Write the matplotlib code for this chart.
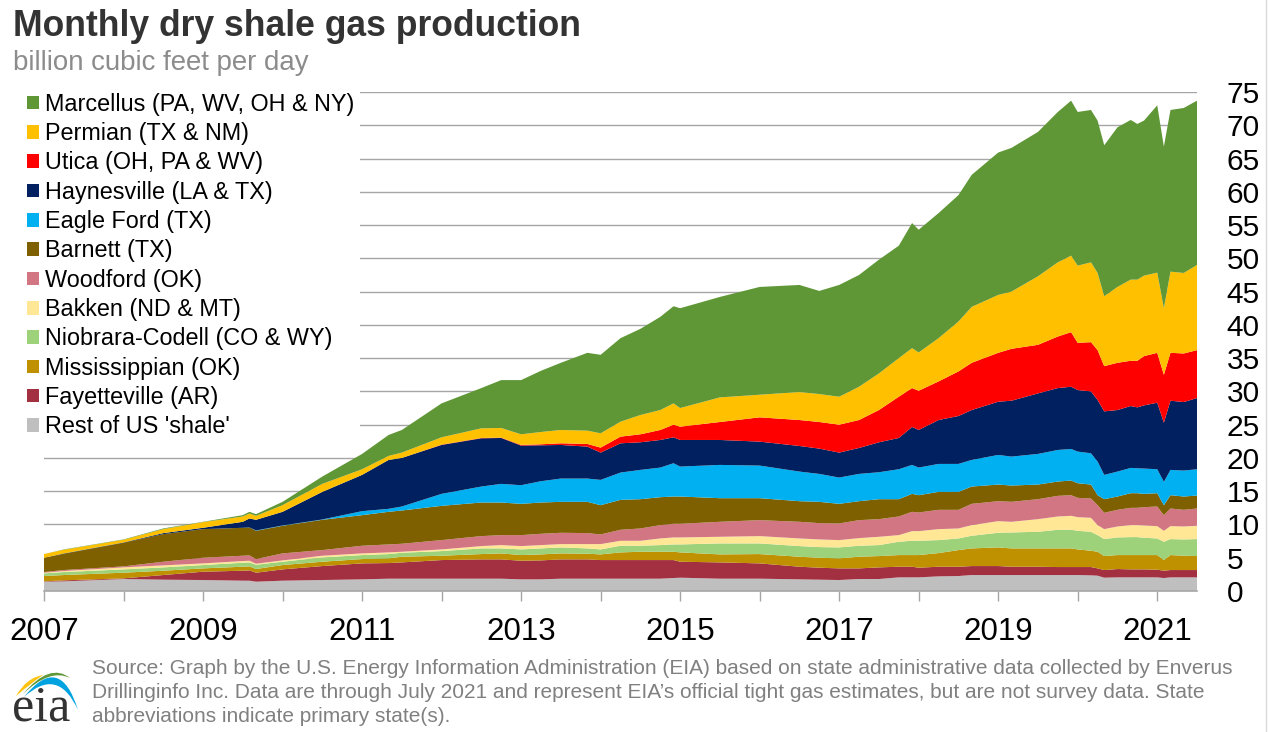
import numpy as np
import matplotlib
matplotlib.use('Agg')
import matplotlib.pyplot as plt
from matplotlib.patches import Patch, PathPatch
from matplotlib.path import Path

plt.rcParams['font.family'] = ['Liberation Sans', 'DejaVu Sans']

# months since Jan 2007
meses = [0, 3, 12, 18, 24, 30, 31, 32, 36, 42, 48, 52, 54, 60, 66, 69, 72, 75, 78, 82,
         84, 87, 90, 93, 95, 96, 102, 108, 114, 117, 120, 123, 126, 129, 131, 132, 135, 138, 140, 144,
         146, 150, 153, 155, 156, 158, 159, 160, 162, 164, 165, 166, 168, 169, 170, 172, 174]

# upper edge of each band in the stack (Bcf/d)
rest = [1.4, 1.45, 1.8, 1.7, 1.65, 1.55, 1.55, 1.4, 1.55, 1.65, 1.75, 1.85, 1.85, 1.85, 1.85, 1.85, 1.75, 1.75, 1.85, 1.85, 1.85, 1.85, 1.85, 1.85, 1.95, 2.0, 1.85, 1.85, 1.75, 1.7, 1.65, 1.8, 1.8, 2.05, 2.05, 2.05, 2.2, 2.25, 2.4, 2.4, 2.4, 2.4, 2.4, 2.4, 2.4, 2.35, 2.3, 2.0, 2.05, 2.05, 2.05, 2.05, 2.05, 1.95, 2.05, 2.05, 2.05]
fayetteville = [1.45, 1.6, 1.9, 2.4, 2.9, 3.05, 3.1, 2.75, 3.25, 3.75, 4.15, 4.2, 4.3, 4.65, 4.75, 4.75, 4.55, 4.6, 4.75, 4.75, 4.65, 4.65, 4.65, 4.65, 4.65, 4.4, 4.3, 4.15, 3.65, 3.5, 3.4, 3.4, 3.55, 3.65, 3.65, 3.5, 3.65, 3.65, 3.75, 3.75, 3.65, 3.65, 3.6, 3.6, 3.6, 3.6, 3.4, 3.15, 3.3, 3.25, 3.25, 3.25, 3.2, 3.05, 3.15, 3.15, 3.15]
mississippian = [2.25, 2.4, 2.75, 3.05, 3.4, 3.65, 3.7, 3.3, 3.9, 4.4, 4.8, 4.9, 5.15, 5.3, 5.55, 5.65, 5.4, 5.5, 5.65, 5.6, 5.5, 5.8, 5.9, 5.9, 5.9, 5.8, 5.5, 5.55, 5.15, 5.0, 4.9, 5.15, 5.25, 5.4, 5.4, 5.4, 5.7, 6.15, 6.4, 6.55, 6.4, 6.4, 6.4, 6.4, 6.25, 6.05, 5.9, 5.25, 5.4, 5.4, 5.4, 5.4, 5.4, 4.65, 5.4, 5.3, 5.25]
niobrara = [2.65, 2.85, 3.25, 3.55, 3.9, 4.25, 4.3, 3.95, 4.4, 5.05, 5.4, 5.55, 5.75, 6.0, 6.4, 6.4, 6.25, 6.4, 6.55, 6.4, 6.25, 6.8, 6.8, 6.9, 7.0, 7.0, 7.15, 7.15, 6.75, 6.6, 6.55, 6.8, 6.9, 7.4, 7.55, 7.55, 7.65, 7.9, 8.3, 8.75, 8.8, 8.9, 9.2, 9.2, 9.05, 8.9, 8.4, 7.8, 8.05, 8.1, 8.1, 8.0, 7.9, 7.4, 7.8, 7.75, 7.8]
bakken = [2.75, 3.0, 3.55, 3.85, 4.15, 4.5, 4.55, 4.1, 4.6, 5.3, 5.65, 5.8, 5.9, 6.25, 6.75, 6.9, 6.75, 6.9, 7.05, 7.05, 7.05, 7.55, 7.55, 7.9, 8.05, 8.05, 8.15, 8.25, 7.9, 7.75, 7.65, 7.95, 8.15, 8.4, 9.0, 9.0, 9.3, 9.4, 9.9, 10.5, 10.4, 10.8, 11.2, 11.3, 11.1, 11.0, 9.9, 9.3, 9.7, 9.9, 9.9, 9.85, 9.75, 9.05, 9.75, 9.7, 9.8]
woodford = [2.85, 3.15, 3.7, 4.4, 5.0, 5.3, 5.35, 4.8, 5.65, 6.15, 6.8, 7.0, 7.1, 7.65, 8.25, 8.4, 8.4, 8.6, 8.75, 8.7, 8.5, 9.2, 9.4, 9.9, 10.1, 10.1, 10.4, 10.65, 10.4, 10.2, 10.15, 10.65, 10.8, 11.2, 11.9, 11.8, 12.2, 12.2, 13.1, 13.5, 13.4, 13.8, 14.3, 14.4, 14.0, 13.9, 12.9, 11.75, 12.2, 12.5, 12.5, 12.6, 12.7, 11.4, 12.4, 12.2, 12.4]
barnett = [5.0, 5.6, 7.25, 8.55, 9.3, 9.5, 9.55, 9.05, 9.8, 10.7, 11.4, 11.9, 12.1, 12.8, 13.3, 13.3, 13.1, 13.3, 13.4, 13.4, 12.9, 13.7, 13.8, 14.1, 14.2, 14.2, 13.95, 13.95, 13.5, 13.4, 13.1, 13.5, 13.8, 13.8, 14.6, 14.4, 14.9, 14.9, 15.7, 16.0, 15.85, 16.0, 16.45, 16.6, 16.2, 16.0, 14.4, 13.8, 14.2, 14.7, 14.7, 14.6, 14.7, 12.9, 14.4, 14.2, 14.35]
eagle_ford = [5.0, 5.6, 7.25, 8.55, 9.3, 9.5, 9.55, 9.1, 9.85, 10.75, 12.0, 12.35, 12.7, 14.6, 15.7, 16.1, 15.9, 16.5, 16.9, 16.9, 16.7, 17.8, 18.2, 18.55, 19.2, 18.7, 18.95, 18.85, 17.95, 17.6, 17.05, 17.6, 17.85, 18.3, 18.95, 18.55, 19.1, 19.1, 19.7, 20.45, 20.2, 20.6, 21.2, 21.35, 20.95, 20.7, 19.45, 17.45, 17.95, 18.5, 18.45, 18.4, 18.3, 16.4, 18.2, 18.1, 18.3]
haynesville = [5.0, 5.65, 7.3, 8.7, 9.5, 10.4, 10.9, 10.7, 11.9, 14.9, 17.45, 19.7, 20.0, 21.95, 22.95, 23.0, 21.85, 21.9, 21.95, 21.7, 20.8, 22.2, 22.35, 22.7, 23.1, 22.7, 22.7, 22.45, 21.8, 21.4, 20.8, 21.5, 22.35, 23.0, 24.65, 24.2, 25.7, 26.3, 27.2, 28.45, 28.6, 29.7, 30.5, 30.7, 30.2, 30.0, 28.7, 27.0, 27.2, 27.8, 27.6, 27.9, 28.3, 25.3, 28.6, 28.4, 29.0]
utica = [5.0, 5.65, 7.3, 8.7, 9.5, 10.4, 10.9, 10.7, 11.9, 14.9, 17.45, 19.7, 20.0, 22.0, 23.0, 23.05, 21.95, 22.05, 22.2, 22.1, 21.55, 23.2, 23.55, 24.2, 25.0, 24.7, 25.4, 26.1, 25.7, 25.4, 25.0, 25.7, 27.2, 29.2, 30.5, 30.1, 31.5, 33.0, 34.3, 35.8, 36.4, 37.0, 38.25, 38.9, 37.3, 37.4, 36.2, 33.8, 34.3, 34.6, 34.6, 35.3, 35.8, 32.5, 35.8, 35.7, 36.2]
permian = [5.55, 6.2, 7.7, 9.3, 10.35, 11.2, 11.65, 11.3, 12.9, 16.1, 18.3, 20.3, 20.8, 23.1, 24.45, 24.5, 23.55, 23.9, 24.2, 24.1, 23.7, 25.45, 26.45, 27.2, 28.2, 27.5, 29.1, 29.5, 29.9, 29.6, 29.2, 30.7, 32.7, 35.0, 36.5, 35.85, 38.0, 40.5, 42.7, 44.5, 45.0, 47.3, 49.4, 50.4, 48.9, 49.4, 47.8, 44.3, 45.7, 46.8, 46.8, 47.4, 47.85, 42.5, 48.0, 47.8, 49.0]
marcellus = [5.55, 6.25, 7.75, 9.4, 10.4, 11.4, 11.9, 11.55, 13.4, 17.2, 20.6, 23.45, 24.2, 28.2, 30.5, 31.7, 31.7, 33.1, 34.3, 35.8, 35.5, 38.0, 39.4, 41.2, 42.8, 42.5, 44.2, 45.7, 46.0, 45.1, 46.0, 47.5, 49.8, 51.9, 55.3, 54.3, 56.8, 59.5, 62.55, 65.9, 66.6, 69.0, 72.0, 73.7, 72.0, 72.3, 70.7, 67.0, 69.7, 70.8, 70.2, 70.7, 73.0, 66.8, 72.3, 72.6, 73.7]

bordes = [rest, fayetteville, mississippian, niobrara, bakken, woodford, barnett,
          eagle_ford, haynesville, utica, permian, marcellus]
colores = ['#bfbfbf', '#a23040', '#bf9000', '#9dd27a', '#ffe796', '#d27684', '#7f6000',
           '#00b0f0', '#002060', '#ff0000', '#ffc000', '#5f9737']
nombres = ["Rest of US 'shale'", 'Fayetteville (AR)', 'Mississippian (OK)', 'Niobrara-Codell (CO & WY)',
           'Bakken (ND & MT)', 'Woodford (OK)', 'Barnett (TX)', 'Eagle Ford (TX)',
           'Haynesville (LA & TX)', 'Utica (OH, PA & WV)', 'Permian (TX & NM)',
           'Marcellus (PA, WV, OH & NY)']
anios = list(range(2007, 2022))
marcas_y = list(range(0, 80, 5))

W, H = 1268, 732
fig = plt.figure(figsize=(W / 100, H / 100), dpi=100)
ax = fig.add_axes([44 / W, 1 - 591 / H, (1197 - 44) / W, (591 - 92) / H])

# band thickness from the edges
valores = np.diff(np.array(bordes), axis=0, prepend=0)
ax.stackplot(meses, valores, colors=colores, linewidth=0, zorder=3)

ax.set_xlim(0, 174)
ax.set_ylim(0, 75)
ax.set_yticks(marcas_y)
ax.yaxis.tick_right()
ax.tick_params(axis='y', length=0, pad=21.5, labelsize=21.5, labelcolor='black')
ax.set_xticks([(a - 2007) * 12 for a in anios])
ax.set_xticklabels([str(a) if a % 2 == 1 else '' for a in anios])
ax.tick_params(axis='x', length=7.5, width=1, color='#a6a6a6', pad=11.3, labelsize=22.5)
ax.grid(axis='y', color='#a6a6a6', linewidth=1, zorder=1)
ax.set_axisbelow(True)
for lado in ['top', 'left', 'right']:
    ax.spines[lado].set_visible(False)
ax.spines['bottom'].set_color('#a6a6a6')
ax.spines['bottom'].set_linewidth(1.2)
ax.spines['bottom'].set_zorder(5)

# legend covers the upper gridlines
handles = [Patch(facecolor=c, edgecolor='none') for c in colores[::-1]]
ley = ax.legend(handles, nombres[::-1], loc='upper left', bbox_to_anchor=(21 / W, 1 - 87 / H),
                bbox_transform=fig.transFigure, frameon=True, facecolor='white', edgecolor='none',
                framealpha=1, fancybox=False, fontsize=16.85, handlelength=0.51, handleheight=0.51,
                handletextpad=0.26, labelspacing=0.27, borderpad=0.25, borderaxespad=0)
ley.set_zorder(2)

# title, source and logo on a pixel overlay
capa = fig.add_axes([0, 0, 1, 1], facecolor='none')
capa.set_xlim(0, W)
capa.set_ylim(H, 0)
capa.axis('off')
capa.text(13, 26, 'Monthly dry shale gas production', fontsize=25.6, fontweight='bold',
          color='#333333', va='center')
capa.text(13, 63, 'billion cubic feet per day', fontsize=19.9, color='#8c8c8c', va='center')
fuente = ['Source: Graph by the U.S. Energy Information Administration (EIA) based on state administrative data collected by Enverus',
          'Drillinginfo Inc. Data are through July 2021 and represent EIA\u2019s official tight gas estimates, but are not survey data. State',
          'abbreviations indicate primary state(s).']
for i, linea in enumerate(fuente):
    capa.text(92, 669 + 24 * i, linea, fontsize=15.02, color='#808080', va='center')

# eia logo
capa.text(41, 720.5, 'eia', family='Liberation Serif', fontsize=36, color='#333333',
          ha='center', va='baseline')
def arco(p0, c, p1, c2, color):
    verts = [p0, c, p1, c2, p0]
    codes = [Path.MOVETO, Path.CURVE3, Path.CURVE3, Path.CURVE3, Path.CURVE3]
    capa.add_patch(PathPatch(Path(verts, codes), facecolor=color, edgecolor='none'))
arco((16, 696), (26, 678), (43, 675), (30, 684), '#ffc20e')
arco((23, 694), (50, 662), (70, 678), (50, 668), '#5f9737')
arco((24, 697), (60, 652), (78, 710), (58, 666), '#00a3e0')

capa.plot([1266, 1266], [0, H], color='#d9d9d9', linewidth=1)

fig.savefig('out.png', dpi=100)
